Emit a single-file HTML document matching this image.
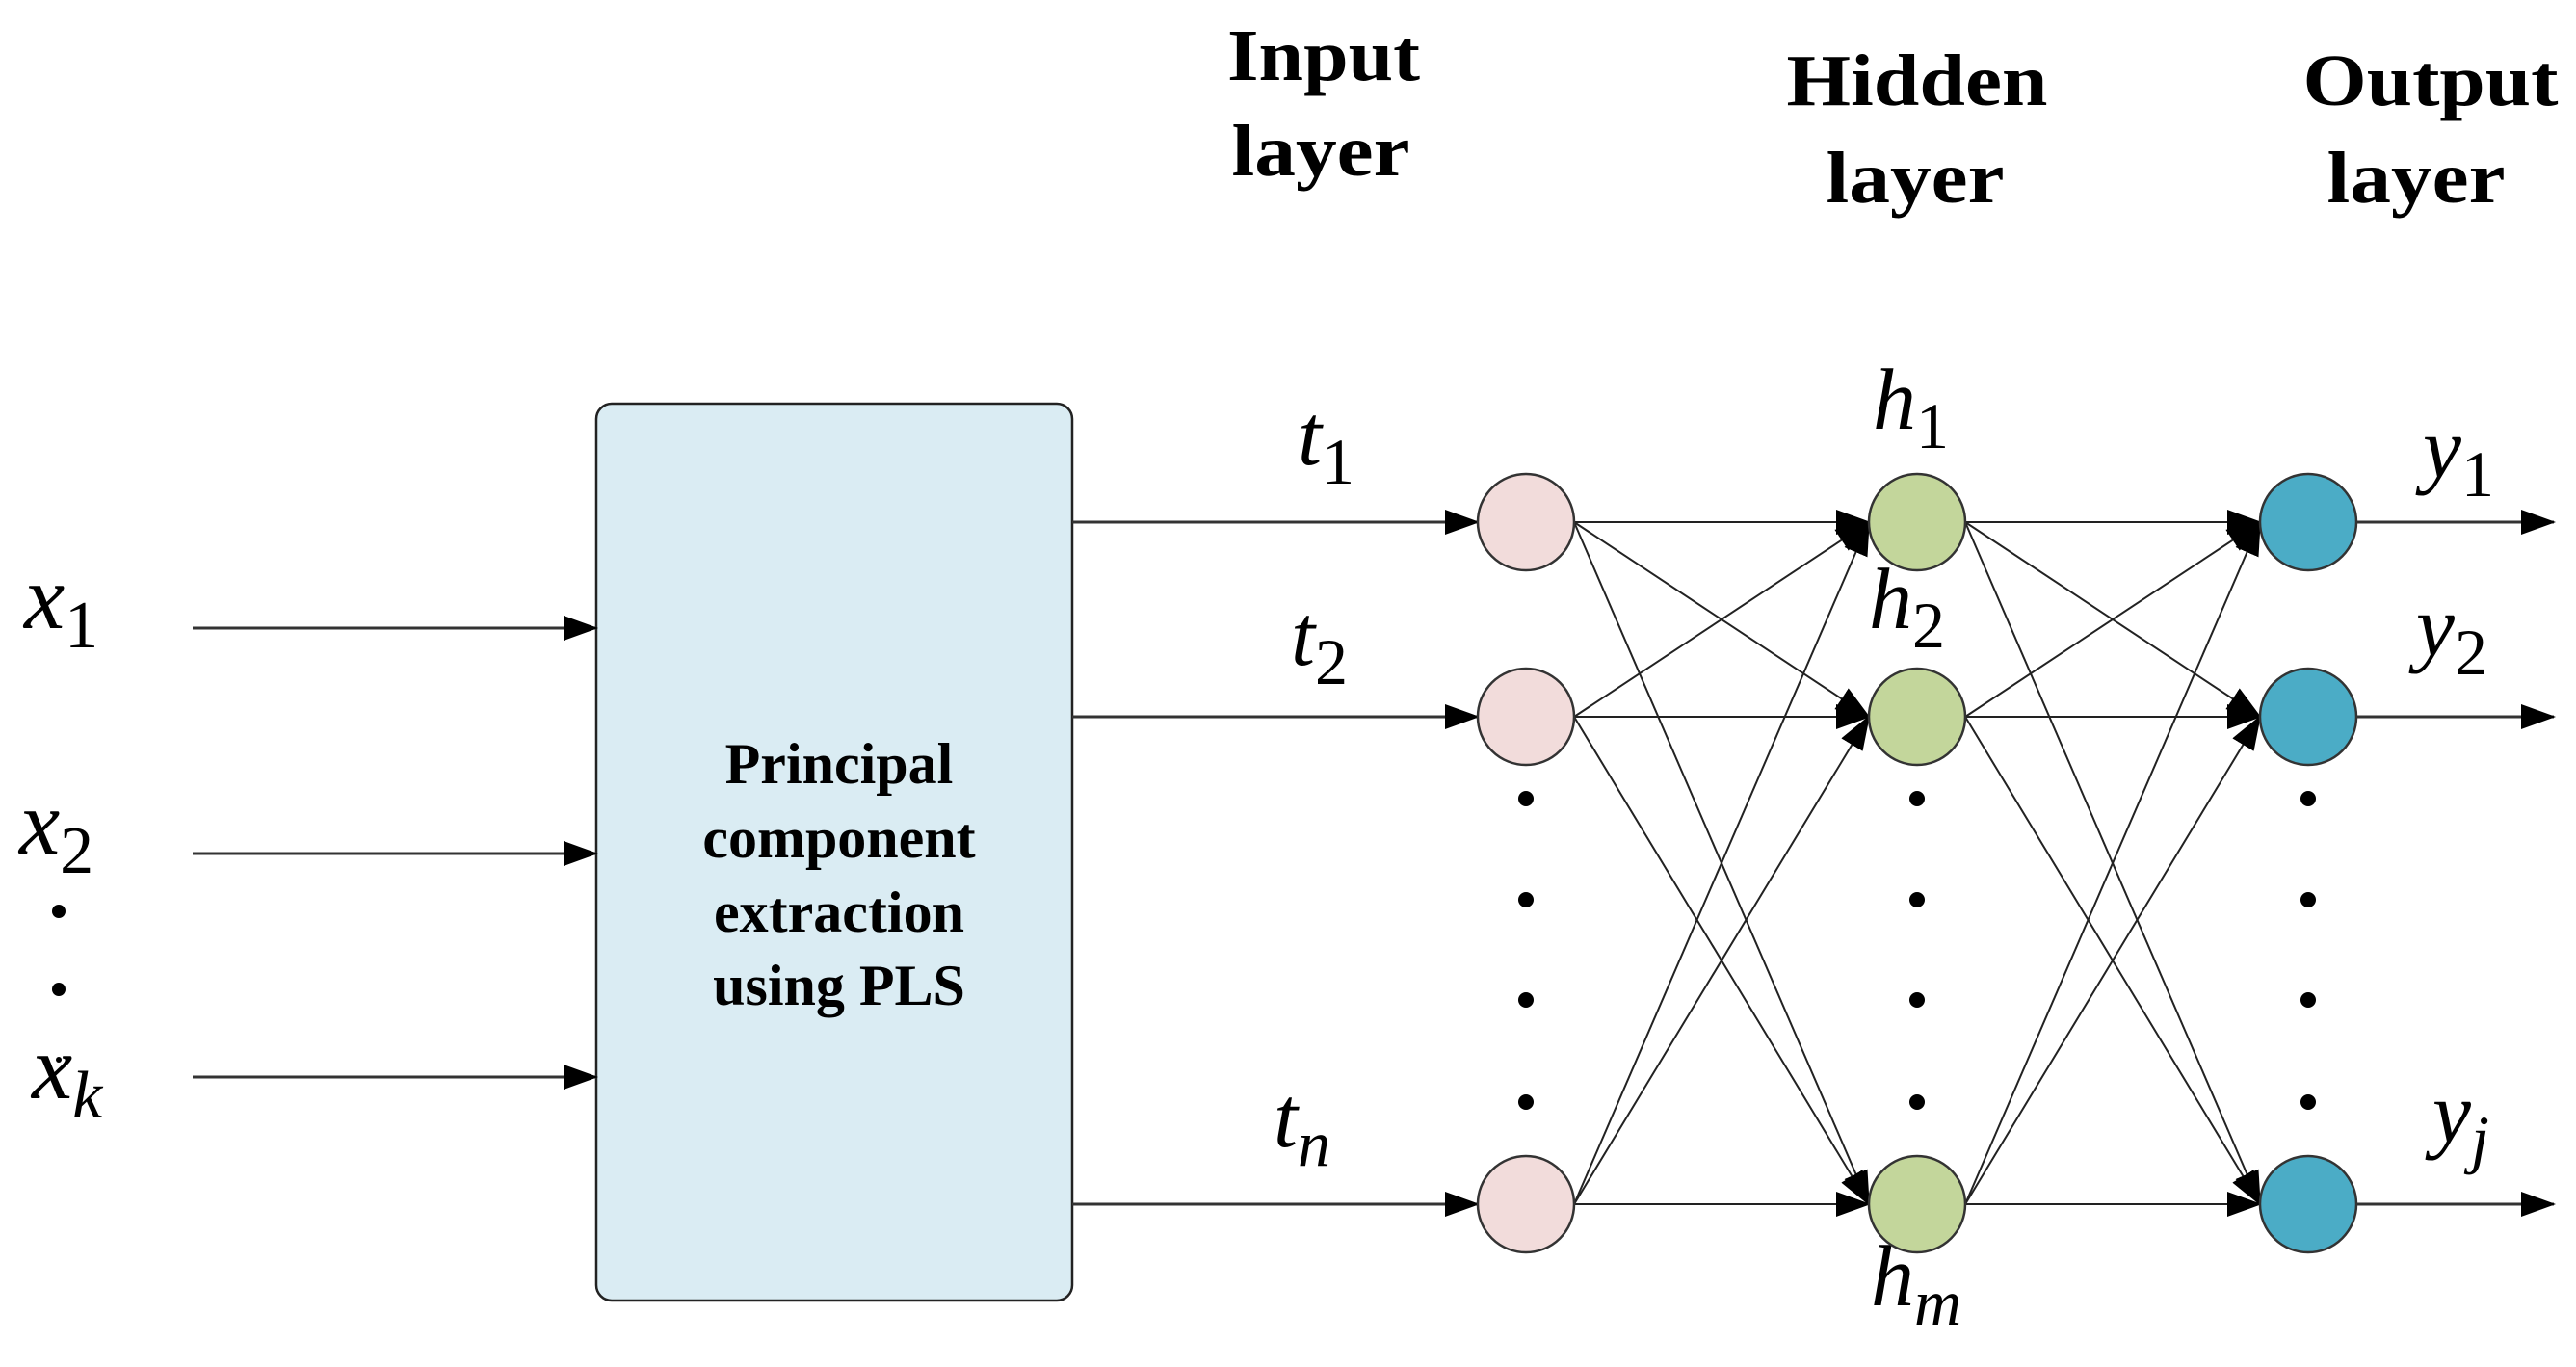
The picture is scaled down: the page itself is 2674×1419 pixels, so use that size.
<!DOCTYPE html>
<html><head><meta charset="utf-8"><style>
html,body{margin:0;padding:0;background:#fff;}
svg{display:block;}
.t{font-family:"Liberation Serif",serif;font-weight:bold;fill:#000;}
.m{font-family:"Liberation Serif",serif;font-style:italic;fill:#000;}
.s{font-family:"Liberation Serif",serif;font-style:normal;}
</style></head><body>
<svg width="2674" height="1419" viewBox="0 0 2674 1419" xmlns="http://www.w3.org/2000/svg">
<defs>
<marker id="a" markerWidth="36" markerHeight="26" refX="34" refY="13" orient="auto" markerUnits="userSpaceOnUse">
<path d="M0,0 L36,13 L0,26 Z" fill="#000"/></marker>
</defs>
<!-- titles -->
<text class="t" x="1374" y="83" font-size="76" text-anchor="middle" textLength="200" lengthAdjust="spacingAndGlyphs">Input</text>
<text class="t" x="1371" y="182" font-size="76" text-anchor="middle" textLength="185" lengthAdjust="spacingAndGlyphs">layer</text>
<text class="t" x="1990" y="109" font-size="76" text-anchor="middle" textLength="271" lengthAdjust="spacingAndGlyphs">Hidden</text>
<text class="t" x="1988" y="210" font-size="76" text-anchor="middle" textLength="185" lengthAdjust="spacingAndGlyphs">layer</text>
<text class="t" x="2523" y="109" font-size="76" text-anchor="middle" textLength="265" lengthAdjust="spacingAndGlyphs">Output</text>
<text class="t" x="2508" y="210" font-size="76" text-anchor="middle" textLength="185" lengthAdjust="spacingAndGlyphs">layer</text>

<!-- box -->
<rect x="619" y="419" width="494" height="931" rx="16" fill="#daecf3" stroke="#222" stroke-width="2.5"/>
<text class="t" x="871" y="813" font-size="60" text-anchor="middle">Principal</text>
<text class="t" x="871" y="890" font-size="60" text-anchor="middle">component</text>
<text class="t" x="871" y="967" font-size="60" text-anchor="middle">extraction</text>
<text class="t" x="871" y="1043" font-size="60" text-anchor="middle">using PLS</text>

<!-- x inputs -->
<g stroke="#333" stroke-width="3">
<line x1="200" y1="652" x2="619" y2="652" marker-end="url(#a)"/>
<line x1="200" y1="886" x2="619" y2="886" marker-end="url(#a)"/>
<line x1="200" y1="1118" x2="619" y2="1118" marker-end="url(#a)"/>
</g>
<text class="m" x="25" y="652" font-size="95">x<tspan class="s" font-size="70" dy="20">1</tspan></text>
<text class="m" x="20" y="886" font-size="95">x<tspan class="s" font-size="70" dy="20">2</tspan></text>
<text class="m" x="33" y="1140" font-size="95">x<tspan font-size="70" dy="20">k</tspan></text>
<circle cx="61" cy="946" r="7" fill="#000"/>
<circle cx="61" cy="1027" r="7" fill="#000"/>
<circle cx="61" cy="1100" r="3" fill="#000"/>

<!-- t lines -->
<g stroke="#333" stroke-width="3">
<line x1="1113" y1="542" x2="1534" y2="542" marker-end="url(#a)"/>
<line x1="1113" y1="744" x2="1534" y2="744" marker-end="url(#a)"/>
<line x1="1113" y1="1250" x2="1534" y2="1250" marker-end="url(#a)"/>
</g>
<text class="m" x="1347" y="482" font-size="90">t<tspan class="s" font-size="68" dy="20">1</tspan></text>
<text class="m" x="1340" y="690" font-size="90">t<tspan class="s" font-size="68" dy="20">2</tspan></text>
<text class="m" x="1322" y="1190" font-size="90">t<tspan font-size="68" dy="20">n</tspan></text>

<!-- connections input->hidden -->
<g stroke="#222" stroke-width="2" fill="none">
<line x1="1634" y1="542" x2="1940" y2="542" marker-end="url(#a)"/>
<line x1="1634" y1="542" x2="1940" y2="744" marker-end="url(#a)"/>
<line x1="1634" y1="542" x2="1940" y2="1250" marker-end="url(#a)"/>
<line x1="1634" y1="744" x2="1940" y2="542" marker-end="url(#a)"/>
<line x1="1634" y1="744" x2="1940" y2="744" marker-end="url(#a)"/>
<line x1="1634" y1="744" x2="1940" y2="1250" marker-end="url(#a)"/>
<line x1="1634" y1="1250" x2="1940" y2="542" marker-end="url(#a)"/>
<line x1="1634" y1="1250" x2="1940" y2="744" marker-end="url(#a)"/>
<line x1="1634" y1="1250" x2="1940" y2="1250" marker-end="url(#a)"/>
<!-- hidden->output -->
<line x1="2040" y1="542" x2="2346" y2="542" marker-end="url(#a)"/>
<line x1="2040" y1="542" x2="2346" y2="744" marker-end="url(#a)"/>
<line x1="2040" y1="542" x2="2346" y2="1250" marker-end="url(#a)"/>
<line x1="2040" y1="744" x2="2346" y2="542" marker-end="url(#a)"/>
<line x1="2040" y1="744" x2="2346" y2="744" marker-end="url(#a)"/>
<line x1="2040" y1="744" x2="2346" y2="1250" marker-end="url(#a)"/>
<line x1="2040" y1="1250" x2="2346" y2="542" marker-end="url(#a)"/>
<line x1="2040" y1="1250" x2="2346" y2="744" marker-end="url(#a)"/>
<line x1="2040" y1="1250" x2="2346" y2="1250" marker-end="url(#a)"/>
</g>
<!-- outputs -->
<g stroke="#333" stroke-width="3">
<line x1="2446" y1="542" x2="2651" y2="542" marker-end="url(#a)"/>
<line x1="2446" y1="744" x2="2651" y2="744" marker-end="url(#a)"/>
<line x1="2446" y1="1250" x2="2651" y2="1250" marker-end="url(#a)"/>
</g>
<text class="m" x="2515" y="495" font-size="90">y<tspan class="s" font-size="68" dy="20">1</tspan></text>
<text class="m" x="2508" y="680" font-size="90">y<tspan class="s" font-size="68" dy="20">2</tspan></text>
<text class="m" x="2525" y="1185" font-size="90">y<tspan font-size="68" dy="20">j</tspan></text>

<!-- h labels -->
<text class="m" x="1944" y="445" font-size="90">h<tspan class="s" font-size="68" dy="20">1</tspan></text>
<text class="m" x="1940" y="652" font-size="90">h<tspan class="s" font-size="68" dy="20">2</tspan></text>
<text class="m" x="1942" y="1355" font-size="90">h<tspan font-size="68" dy="20">m</tspan></text>

<!-- nodes -->
<g stroke="#333" stroke-width="2.5">
<ellipse cx="1584" cy="542" rx="50" ry="50" fill="#f2dcdb"/>
<ellipse cx="1584" cy="744" rx="50" ry="50" fill="#f2dcdb"/>
<ellipse cx="1584" cy="1250" rx="50" ry="50" fill="#f2dcdb"/>
<ellipse cx="1990" cy="542" rx="50" ry="50" fill="#c3d69b"/>
<ellipse cx="1990" cy="744" rx="50" ry="50" fill="#c3d69b"/>
<ellipse cx="1990" cy="1250" rx="50" ry="50" fill="#c3d69b"/>
<ellipse cx="2396" cy="542" rx="50" ry="50" fill="#4bacc6"/>
<ellipse cx="2396" cy="744" rx="50" ry="50" fill="#4bacc6"/>
<ellipse cx="2396" cy="1250" rx="50" ry="50" fill="#4bacc6"/>
</g>
<!-- dots -->
<g fill="#000">
<circle cx="1584" cy="829" r="8"/><circle cx="1584" cy="934" r="8"/><circle cx="1584" cy="1038" r="8"/><circle cx="1584" cy="1144" r="8"/>
<circle cx="1990" cy="829" r="8"/><circle cx="1990" cy="934" r="8"/><circle cx="1990" cy="1038" r="8"/><circle cx="1990" cy="1144" r="8"/>
<circle cx="2396" cy="829" r="8"/><circle cx="2396" cy="934" r="8"/><circle cx="2396" cy="1038" r="8"/><circle cx="2396" cy="1144" r="8"/>
</g>
</svg>
</body></html>
